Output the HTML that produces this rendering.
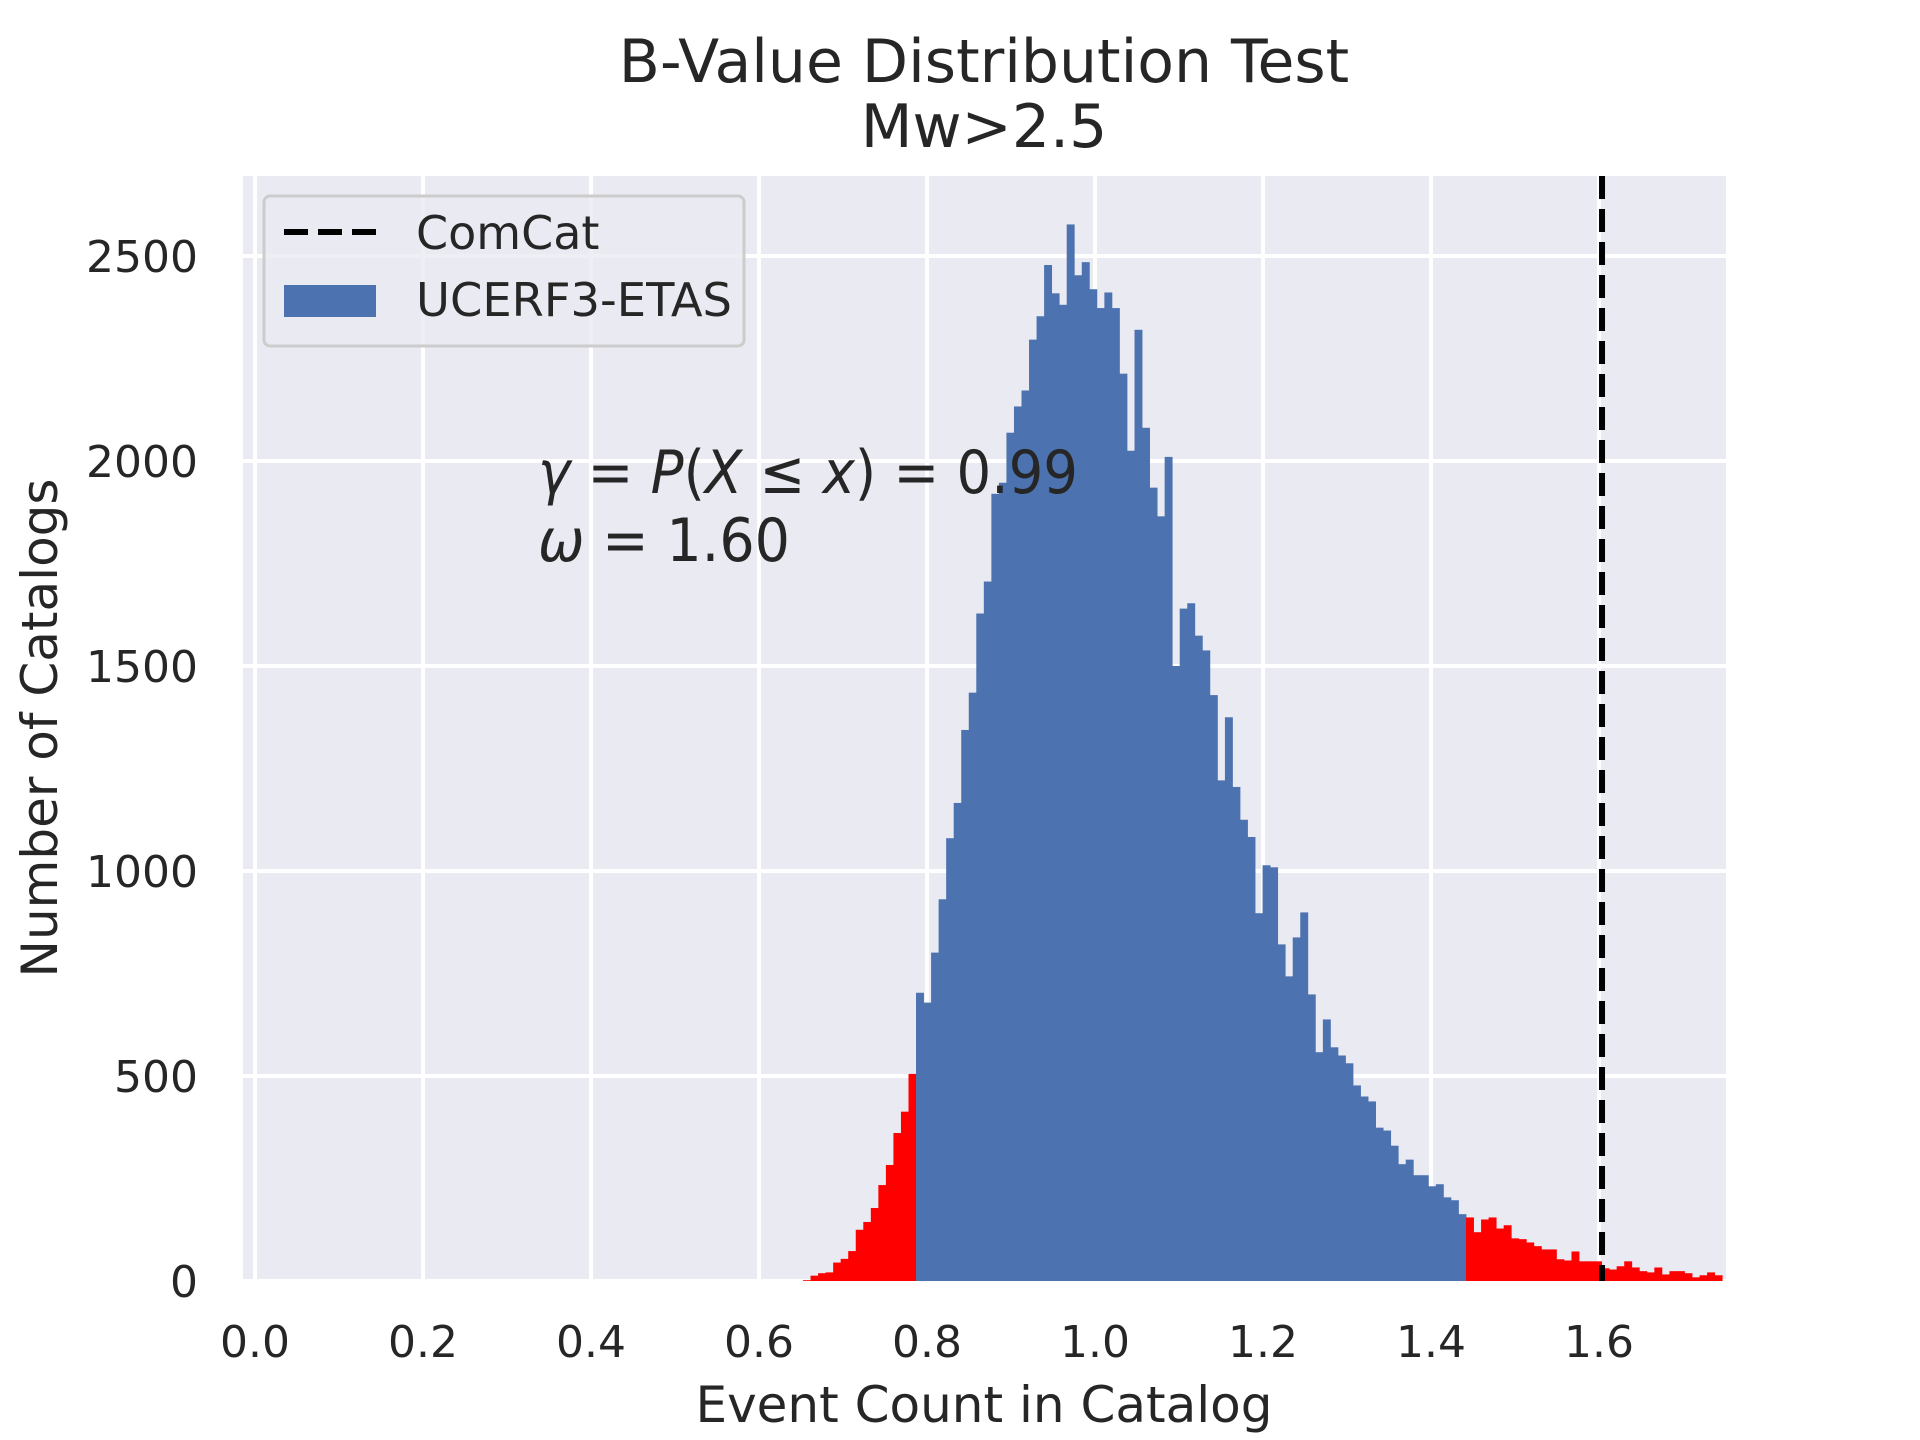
<!DOCTYPE html>
<html><head><meta charset="utf-8">
<style>
html,body{margin:0;padding:0;background:#fff;}
svg{display:block;font-family:"DejaVu Sans","Liberation Sans",sans-serif;}
</style></head>
<body>
<svg id="chart" width="1920" height="1440" viewBox="0 0 1920 1440" xmlns="http://www.w3.org/2000/svg">
  <rect x="0" y="0" width="1920" height="1440" fill="#ffffff"/>
  <text x="984" y="82" font-size="60" fill="#262626" text-anchor="middle">B-Value Distribution Test</text>
  <text x="984" y="147" font-size="60" fill="#262626" text-anchor="middle">Mw&gt;2.5</text>
  <rect x="243" y="176" width="1483" height="1105" fill="#eaeaf2"/>
  <g id="grid"></g>
  <g id="bars"></g>
  <line id="comcat" stroke="#000" stroke-width="6" stroke-dasharray="23 10"/>
  <g id="xticks"></g>
  <g id="yticks"></g>
  <text x="984" y="1422" font-size="50" fill="#262626" text-anchor="middle">Event Count in Catalog</text>
  <text transform="translate(57,728) rotate(-90)" font-size="50" fill="#262626" text-anchor="middle">Number of Catalogs</text>
  <g fill="#262626" font-size="60">
    <text x="538" y="493" textLength="540" lengthAdjust="spacingAndGlyphs"><tspan font-style="italic">γ</tspan> = <tspan font-style="italic">P</tspan>(<tspan font-style="italic">X</tspan> ≤ <tspan font-style="italic">x</tspan>) = 0.99</text>
    <text x="538" y="561" textLength="252" lengthAdjust="spacingAndGlyphs"><tspan font-style="italic">ω</tspan> = 1.60</text>
  </g>
  <g>
    <rect x="264" y="196" width="480" height="150" rx="6" fill="#eaeaf2" fill-opacity="0.8" stroke="#cccccc" stroke-width="3"/>
    <line x1="284" y1="232" x2="376" y2="232" stroke="#000" stroke-width="6" stroke-dasharray="24 10"/>
    <text x="416" y="249" font-size="46" fill="#262626">ComCat</text>
    <rect x="284" y="285" width="92" height="32" fill="#4c72b0"/>
    <text x="416" y="316" font-size="46" fill="#262626" textLength="316" lengthAdjust="spacingAndGlyphs">UCERF3-ETAS</text>
  </g>
</svg>
<script>
// ---- data ----
const binStart = 0.6524;
const binWidth = 0.008969;
const counts = [
  2,13,19,21,45,54,73,125,144,178,234,283,361,413,505,
  703,679,801,931,1080,1166,1344,1435,1628,1706,1920,1947,2069,2133,2172,2296,2353,2478,2409,2381,2577,2453,2485,2419,2373,2411,2373,2213,2025,2320,2081,1935,1865,2010,1500,1640,1653,1574,1538,1429,1221,1375,1205,1125,1083,897,
  1014,1009,821,743,838,899,699,558,638,570,550,531,477,450,438,374,367,330,285,296,258,258,231,236,204,197,163,
  155,119,150,155,128,136,104,102,94,85,77,77,53,50,72,48,48,48,31,28,36,48,33,24,21,33,16,24,24,19,9,14,21,14
];
const lowerCut = 0.7869;
const upperCut = 1.4414;
const comcatValue = 1.6036;
const xTicks = [0.0,0.2,0.4,0.6,0.8,1.0,1.2,1.4,1.6];
const xTickLabels = ["0.0","0.2","0.4","0.6","0.8","1.0","1.2","1.4","1.6"];
const yTicks = [0,500,1000,1500,2000,2500];
const yTickLabels = ["0","500","1000","1500","2000","2500"];

// ---- axes ----
const X0 = 255, XS = 840;
const Y0 = 1281, YS = 0.41;
const PT = 176, PL = 243, PR = 1726;
function xs(v){ return X0 + v*XS; }
function ys(v){ return Y0 - v*YS; }
const NS = "http://www.w3.org/2000/svg";

const grid = document.getElementById('grid');
xTicks.forEach((t,i)=>{
  const l = document.createElementNS(NS,'line');
  
  
  l.setAttribute('x1',xs(t)); l.setAttribute('x2',xs(t));
  l.setAttribute('y1',PT); l.setAttribute('y2',Y0);
  l.setAttribute('stroke','#fff'); l.setAttribute('stroke-width','4');
  grid.appendChild(l);
  const tx = document.createElementNS(NS,'text');
  
  
  tx.setAttribute('x',xs(t)); tx.setAttribute('y',1357);
  tx.setAttribute('font-size','44'); tx.setAttribute('fill','#262626');
  tx.setAttribute('text-anchor','middle');
  tx.textContent = xTickLabels[i];
  document.getElementById('xticks').appendChild(tx);
});
yTicks.forEach((t,i)=>{
  const l = document.createElementNS(NS,'line');
  
  
  l.setAttribute('x1',PL); l.setAttribute('x2',PR);
  l.setAttribute('y1',ys(t)); l.setAttribute('y2',ys(t));
  l.setAttribute('stroke','#fff'); l.setAttribute('stroke-width','4');
  grid.appendChild(l);
  const tx = document.createElementNS(NS,'text');
  
  
  tx.setAttribute('x',198); tx.setAttribute('y',ys(t)+16);
  tx.setAttribute('font-size','44'); tx.setAttribute('fill','#262626');
  tx.setAttribute('text-anchor','end');
  tx.textContent = yTickLabels[i];
  document.getElementById('yticks').appendChild(tx);
});

const bars = document.getElementById('bars');
counts.forEach((c,i)=>{
  const a = binStart + i*binWidth, b = a + binWidth;
  const mid = (a+b)/2;
  const r = document.createElementNS(NS,'rect');
  
  
  r.setAttribute('x',xs(a));
  r.setAttribute('width',xs(b)-xs(a)+0.4);
  r.setAttribute('y',ys(c));
  r.setAttribute('height',ys(0)-ys(c));
  r.setAttribute('fill',(mid<lowerCut||mid>upperCut)?'#ff0000':'#4c72b0');
  bars.appendChild(r);
});

const cl = document.getElementById('comcat');
cl.setAttribute('x1',xs(comcatValue)); cl.setAttribute('x2',xs(comcatValue));
cl.setAttribute('y1',PT); cl.setAttribute('y2',Y0);
</script>
</body></html>
